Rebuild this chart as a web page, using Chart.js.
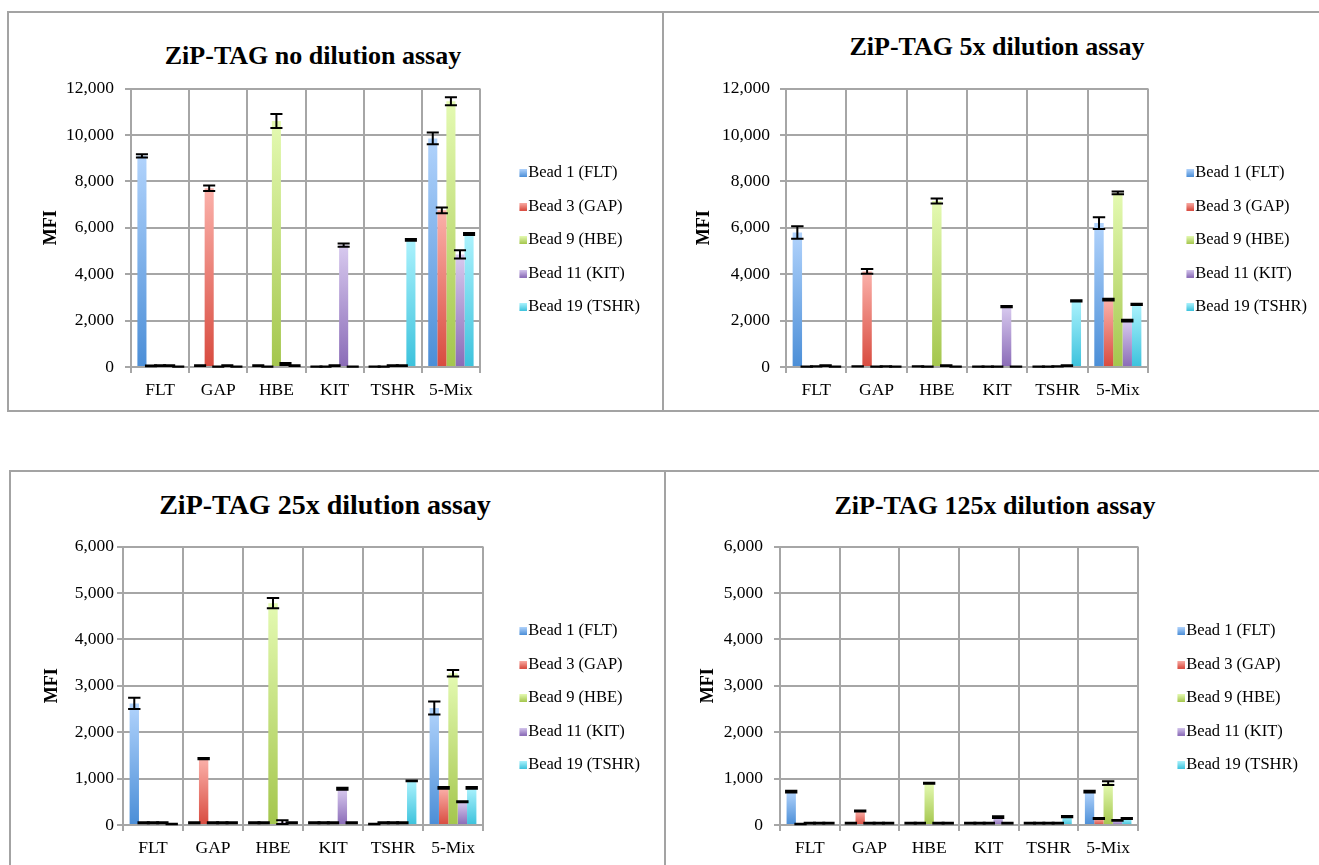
<!DOCTYPE html>
<html>
<head>
<meta charset="utf-8">
<script src="https://cdn.jsdelivr.net/npm/chart.js@4.4.1/dist/chart.umd.min.js"></script>
<style>
  body { margin: 0; background: #fff; width: 1319px; height: 865px; overflow: hidden; position: relative;
         font-family: "Liberation Serif", "Times New Roman", serif; }
  .panel { position: absolute; border: 2px solid #a3a3a3; box-sizing: border-box; }
  .title { position: absolute; width: 600px; text-align: center; font-weight: bold;
           line-height: 30px; color: #000; white-space: nowrap; }
  .plot { position: absolute; }
</style>
</head>
<body>
<div class="panel" style="left:7px;top:11px;width:657px;height:401px"></div>
<div class="panel" style="left:662px;top:11px;width:660px;height:401px"></div>
<div class="panel" style="left:9px;top:470px;width:657px;height:400px"></div>
<div class="panel" style="left:664px;top:470px;width:660px;height:400px"></div>
<script>
// ===== ZiP-TAG assays: MFI per bead, 4 dilutions =====

const categories = ['FLT', 'GAP', 'HBE', 'KIT', 'TSHR', '5-Mix'];
const beadLabels = ['Bead 1 (FLT)', 'Bead 3 (GAP)', 'Bead 9 (HBE)', 'Bead 11 (KIT)', 'Bead 19 (TSHR)'];
const titles = ['ZiP-TAG no dilution assay', 'ZiP-TAG 5x dilution assay',
                'ZiP-TAG 25x dilution assay', 'ZiP-TAG 125x dilution assay'];
const yMax = [12000, 12000, 6000, 6000];
const yStep = [2000, 2000, 1000, 1000];

// rows = beads, columns = categories
const mfiNoDil = [
  [9100, 60, 60, 20, 20, 9850],
  [50, 7700, 20, 20, 20, 6750],
  [60, 20, 10600, 60, 60, 11450],
  [60, 60, 130, 5250, 60, 4850],
  [20, 20, 60, 20, 5480, 5730],
];
const errNoDil = [
  [70, 20, 20, 5, 5, 250],
  [20, 120, 5, 5, 5, 120],
  [20, 5, 300, 20, 20, 170],
  [20, 20, 40, 70, 20, 180],
  [5, 5, 20, 5, 40, 40],
];
const mfi5x = [
  [5800, 30, 30, 20, 20, 6200],
  [20, 4120, 20, 20, 20, 2900],
  [30, 20, 7150, 20, 30, 7500],
  [60, 30, 60, 2600, 60, 2000],
  [20, 20, 20, 20, 2850, 2700],
];
const err5x = [
  [270, 5, 5, 5, 5, 250],
  [5, 100, 5, 5, 5, 40],
  [5, 5, 110, 5, 5, 60],
  [15, 5, 15, 30, 15, 40],
  [5, 5, 5, 5, 30, 30],
];
const mfi25x = [
  [2620, 50, 50, 50, 20, 2520],
  [50, 1430, 50, 50, 50, 800],
  [50, 50, 4780, 50, 50, 3270],
  [50, 50, 60, 780, 50, 500],
  [20, 50, 50, 50, 950, 800],
];
const err25x = [
  [120, 10, 10, 10, 5, 140],
  [10, 15, 10, 10, 10, 20],
  [10, 10, 110, 10, 10, 70],
  [10, 10, 40, 20, 10, 10],
  [5, 10, 10, 10, 10, 20],
];
const mfi125x = [
  [720, 40, 40, 40, 40, 720],
  [20, 300, 40, 40, 40, 140],
  [40, 40, 900, 40, 40, 900],
  [40, 40, 40, 170, 40, 100],
  [40, 40, 40, 40, 180, 140],
];
const err125x = [
  [20, 10, 10, 10, 10, 20],
  [5, 10, 10, 10, 10, 10],
  [10, 10, 10, 10, 10, 40],
  [10, 10, 10, 20, 10, 10],
  [10, 10, 10, 10, 15, 10],
];

const barTop = ['#b1d3fc', '#fbb1aa', '#e4fab2', '#d8caef', '#abf2fd'];
const barBottom = ['#4b8ed7', '#d84b3f', '#a4c64d', '#8a6bb7', '#3cc2dc'];
const GRID = '#a6a6a6';
const FONT = '"Liberation Serif", "Times New Roman", serif';

// where each plot area sits on the page
const frames = [
  { left: 131, right: 480, top: 88, bottom: 367, mfiX: 50, legendX: 528, legMid: 240, tickPad: 11, titleX: 313, titleY: 56, titleSize: 26 },
  { left: 786, right: 1148, top: 88, bottom: 367, mfiX: 703, legendX: 1195, legMid: 240, tickPad: 10, titleX: 997, titleY: 47, titleSize: 26 },
  { left: 123, right: 483, top: 546, bottom: 825, mfiX: 51, legendX: 528, legMid: 698, tickPad: 3, titleX: 325, titleY: 506, titleSize: 28 },
  { left: 780, right: 1138, top: 546, bottom: 825, mfiX: 707, legendX: 1186, legMid: 698, tickPad: 11, titleX: 995, titleY: 506, titleSize: 26 },
];

Chart.defaults.font.family = FONT;
Chart.defaults.color = '#000';

const TICK_FONT = 17.5, LEG_FONT = 16.5, LEG_PAD = 17;

function legendMarker(s) {
  const c = document.createElement('canvas');
  c.width = 16; c.height = 8;
  const g = c.getContext('2d');
  const grd = g.createLinearGradient(0, 0, 0, 8);
  grd.addColorStop(0, barTop[s]);
  grd.addColorStop(1, barBottom[s]);
  g.fillStyle = grd;
  g.fillRect(8, 0, 8, 8);
  return c;
}
const markers = beadLabels.map((_, s) => legendMarker(s));

function barFill(c, s) {
  const chart = c.chart;
  if (!chart.chartArea || c.type !== 'data') return barBottom[s];
  const y = chart.scales.y;
  const top = y.getPixelForValue(c.raw);
  const base = y.getPixelForValue(0);
  if (base - top < 1) return barBottom[s];
  const g = chart.ctx.createLinearGradient(0, base, 0, top);
  g.addColorStop(0, barBottom[s]);
  g.addColorStop(1, barTop[s]);
  return g;
}

const errorBars = {
  id: 'errorBars',
  afterDatasetsDraw(chart) {
    const { ctx, scales: { y } } = chart;
    ctx.save();
    ctx.strokeStyle = '#000';
    ctx.lineWidth = 2;
    chart.data.datasets.forEach((ds, i) => {
      chart.getDatasetMeta(i).data.forEach((bar, j) => {
        const v = ds.data[j], e = ds.errors[j];
        const hi = y.getPixelForValue(v + e);
        const lo = y.getPixelForValue(Math.max(0, v - e));
        const half = bar.width / 2 + 1.5;
        ctx.beginPath();
        ctx.moveTo(bar.x, hi); ctx.lineTo(bar.x, lo);
        ctx.moveTo(bar.x - half, hi); ctx.lineTo(bar.x + half, hi);
        ctx.moveTo(bar.x - half, lo); ctx.lineTo(bar.x + half, lo);
        ctx.stroke();
      });
    });
    ctx.restore();
  }
};

// legend width as Chart.js will fit it
const meas = document.createElement('canvas').getContext('2d');
meas.font = LEG_FONT + 'px ' + FONT;
const legTextW = Math.max(...beadLabels.map(t => meas.measureText(t).width));
const legendW = LEG_PAD + 1 + LEG_FONT / 2 + legTextW + 10;

function makeChart(k, values, errors) {
  const f = frames[k];

  const t = document.createElement('div');
  t.className = 'title';
  t.textContent = titles[k];
  t.style.fontSize = f.titleSize + 'px';
  t.style.left = (f.titleX - 300) + 'px';
  t.style.top = (f.titleY - 0.56 * f.titleSize) + 'px';
  document.body.appendChild(t);

  // the y scale keeps half a label plus its tick padding above the plot;
  // the legend is centred on the whole canvas height
  const cLeft = Math.round(f.mfiX - 10.8);
  const cTop = Math.round(f.top - TICK_FONT * 0.6 - f.tickPad);
  const cBottom = 2 * f.legMid - cTop;
  const legLeft = f.legendX - (LEG_FONT / 2 + 1) - LEG_PAD;
  const cRight = Math.round(legLeft + legendW);
  const spacer = (cRight - legendW) - f.right;
  const xAxisH = cBottom - f.bottom;

  const wrap = document.createElement('div');
  wrap.className = 'plot';
  wrap.style.left = cLeft + 'px';
  wrap.style.top = cTop + 'px';
  wrap.style.width = (cRight - cLeft) + 'px';
  wrap.style.height = (cBottom - cTop) + 'px';
  const cv = document.createElement('canvas');
  wrap.appendChild(cv);
  document.body.appendChild(wrap);

  new Chart(cv, {
    type: 'bar',
    data: {
      labels: categories,
      datasets: beadLabels.map((label, s) => ({
        label,
        data: values[s],
        errors: errors[s],
        backgroundColor: c => barFill(c, s),
        borderWidth: 0,
        categoryPercentage: 0.78,
        barPercentage: 1,
      })),
    },
    options: {
      responsive: true,
      maintainAspectRatio: false,
      animation: false,
      layout: { padding: 0 },
      plugins: {
        tooltip: { enabled: false },
        legend: {
          position: 'right',
          maxWidth: 400,
          labels: {
            usePointStyle: true,
            pointStyleWidth: 1,
            padding: LEG_PAD,
            font: { size: LEG_FONT },
            color: '#000',
            generateLabels: chart => chart.data.datasets.map((ds, i) => ({
              text: ds.label, pointStyle: markers[i], fillStyle: barBottom[i],
              strokeStyle: 'transparent', lineWidth: 0, hidden: false, datasetIndex: i,
            })),
          },
        },
      },
      scales: {
        x: {
          grid: { offset: true, color: GRID, lineWidth: 2, tickLength: 6 },
          border: { color: GRID, width: 2 },
          ticks: { font: { size: TICK_FONT }, color: '#000', padding: 7, maxRotation: 0, autoSkip: false },
          afterFit: s => { s.height = xAxisH; },
        },
        y: {
          min: 0,
          max: yMax[k],
          ticks: { stepSize: yStep[k], font: { size: TICK_FONT }, color: '#000', padding: f.tickPad,
                   callback: v => v.toLocaleString('en-US') },
          grid: { color: GRID, lineWidth: 2, tickLength: 6 },
          border: { color: GRID, width: 2 },
          title: { display: true, text: 'MFI', font: { size: 18, weight: 'bold' }, color: '#000',
                   padding: { top: 2, bottom: 0 } },
          afterFit: s => { s.width = f.left - cLeft; },
        },
        gap: {
          type: 'linear',
          position: 'right',
          display: true,
          grid: { display: false, drawTicks: false },
          border: { display: false },
          ticks: { display: false },
          afterFit: s => { s.width = spacer; },
        },
      },
    },
    plugins: [errorBars],
  });
}

makeChart(0, mfiNoDil, errNoDil);
makeChart(1, mfi5x, err5x);
makeChart(2, mfi25x, err25x);
makeChart(3, mfi125x, err125x);
</script>
</body>
</html>
